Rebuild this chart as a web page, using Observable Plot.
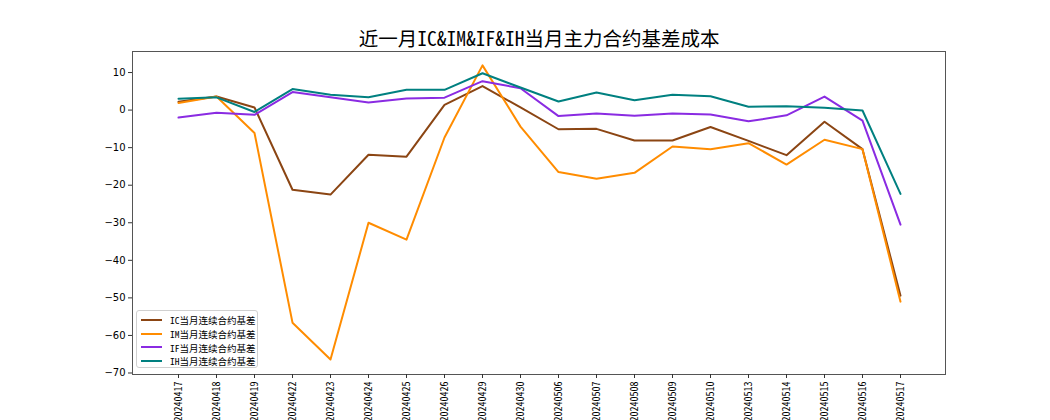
<!DOCTYPE html>
<html>
<head>
<meta charset="utf-8">
<script src="https://cdn.jsdelivr.net/npm/d3@7"></script>
<script src="https://cdn.jsdelivr.net/npm/@observablehq/plot@0.6"></script>
<style>
  html, body { margin: 0; padding: 0; background: #fff; }
  #wrap { position: relative; width: 1050px; height: 420px; overflow: hidden; }
  #legend { position: absolute; left: 136px; top: 310px; width: 122px; height: 58px; box-sizing: border-box; padding: 2px 0 0 0;
    border: 1px solid #d0d0d0; border-radius: 3px; background: rgba(255,255,255,0.85);
    font-family: "Noto Sans Mono CJK SC", "Noto Sans CJK SC", sans-serif; font-size: 9.5px; color: #000; white-space: nowrap; }
  #legend .row { display: flex; align-items: center; height: 13.8px; }
  #legend .sw { flex: none; width: 21px; height: 2px; margin-left: 4px; margin-right: 8px; }
</style>
</head>
<body>
<div id="wrap"></div>
<script>
const dates = ["20240417","20240418","20240419","20240422","20240423","20240424","20240425","20240426","20240429","20240430","20240506","20240507","20240508","20240509","20240510","20240513","20240514","20240515","20240516","20240517"];
const seriesNames = ["IC当月连续合约基差","IM当月连续合约基差","IF当月连续合约基差","IH当月连续合约基差"];
const seriesColors = ["#8B4513","#FF8C00","#8A2BE2","#008080"];
const IC = [2.2, 3.6, 0.7, -21.2, -22.5, -11.9, -12.4, 1.4, 6.4, 0.7, -5.1, -5.0, -8.1, -8.1, -4.5, -8.2, -12.0, -3.1, -10.4, -49.4];
const IM = [1.9, 3.6, -6.1, -56.6, -66.4, -30.0, -34.5, -7.3, 11.9, -4.4, -16.5, -18.3, -16.7, -9.7, -10.4, -8.8, -14.5, -7.9, -10.4, -51.0];
const IF = [-2.0, -0.7, -1.25, 4.8, 3.4, 2.0, 3.1, 3.3, 7.7, 5.8, -1.6, -0.9, -1.5, -0.9, -1.2, -3.0, -1.4, 3.6, -2.8, -30.5];
const IH = [3.0, 3.4, -0.5, 5.6, 4.1, 3.4, 5.4, 5.4, 9.8, 6.0, 2.3, 4.7, 2.6, 4.1, 3.7, 0.9, 1.0, 0.6, -0.1, -22.3];
const yTicks = [10, 0, -10, -20, -30, -40, -50, -60, -70];
const title = "近一月IC&IM&IF&IH当月主力合约基差成本";

const allSeries = [IC, IM, IF, IH];
const rows = [];
allSeries.forEach((vals, s) => vals.forEach((v, i) => rows.push({date: dates[i], value: v, series: seriesNames[s]})));

const chart = Plot.plot({
  width: 1050,
  height: 420,
  marginLeft: 132,
  marginRight: 105,
  marginTop: 51,
  marginBottom: 46,
  style: {fontFamily: "'DejaVu Sans', sans-serif", fontSize: "10px", color: "#000", background: "#fff"},
  x: {type: "point", domain: dates, padding: 0.95, label: null},
  y: {domain: [-70.4, 15.6], label: null},
  color: {domain: seriesNames, range: seriesColors},
  marks: [
    Plot.frame({stroke: "#555"}),
    Plot.axisY({ticks: yTicks, tickSize: 4, tickPadding: 3, label: null, stroke: "#333"}),
    Plot.axisX({tickSize: 4, tickPadding: 3, tickRotate: -90, label: null, stroke: "#333",
      fontFamily: "'Noto Sans Mono CJK SC', 'Liberation Sans Narrow', sans-serif", fontSize: 10}),
    Plot.line(rows, {x: "date", y: "value", z: "series", stroke: "series", strokeWidth: 2, curve: "linear"}),
    Plot.text([title], {frameAnchor: "top", dy: -19, fontSize: 19.5,
      fontFamily: "'Noto Sans Mono CJK SC', 'Noto Sans CJK SC', sans-serif", fill: "#000", text: d => d})
  ]
});
const wrap = document.getElementById("wrap");
wrap.appendChild(chart);

const legend = document.createElement("div");
legend.id = "legend";
seriesNames.forEach((name, i) => {
  const row = document.createElement("div");
  row.className = "row";
  const sw = document.createElement("div");
  sw.className = "sw";
  sw.style.background = seriesColors[i];
  const label = document.createElement("span");
  label.textContent = name;
  row.appendChild(sw);
  row.appendChild(label);
  legend.appendChild(row);
});
wrap.appendChild(legend);
</script>
</body>
</html>
